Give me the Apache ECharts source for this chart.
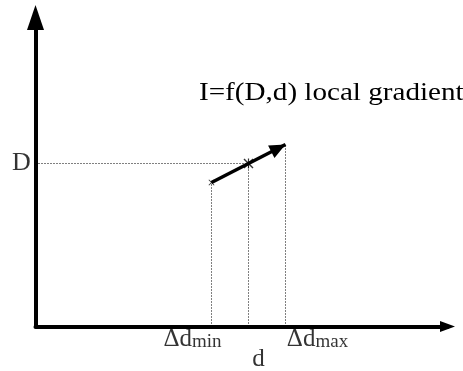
<!DOCTYPE html>
<html>
<head>
<meta charset="utf-8">
<script src="https://cdn.jsdelivr.net/npm/echarts@6/dist/echarts.min.js"></script>
<style>html,body{margin:0;padding:0;background:#fff;}#c{width:463px;height:371px;}</style>
</head>
<body>
<div id="c"></div>
<script>
// Diagram values (axis units: d horizontally, D vertically)
var xMax = 412;
var yMax = 309;
var dMin = 176;      // Δd_min
var dMid = 213;      // d
var dMax = 250;      // Δd_max
var DVal = 163;      // D
var gradStart = [dMin, 144];
var gradEnd = [dMax, 182];
var xTickNames = ['{a|Δd}{b|min}', '{a|d}', '{a|Δd}{b|max}'];
var yTickName = 'D';
var titleText = 'I=f(D,d) local gradient';

var FONT = 'Liberation Serif';

var chart = echarts.init(document.getElementById('c'));

var dotted = { color: '#000', width: 1, type: [1, 2] };
var dottedV = [
  [[dMin, 0], gradStart],
  [[dMid, 0], [dMid, DVal]],
  [[dMax, 0], gradEnd]
];
var dottedSeries = dottedV.map(function (seg) {
  return { type: 'line', data: seg, symbol: 'none', silent: true, lineStyle: dotted, z: 1 };
});
dottedSeries.push({
  type: 'line', data: [[0, DVal], [dMid, DVal]], symbol: 'none', silent: true,
  lineStyle: dotted, z: 1
});

var rich = {
  a: { fontFamily: FONT, fontSize: 25, color: '#000', verticalAlign: 'bottom', lineHeight: 26 },
  b: { fontFamily: FONT, fontSize: 19, color: '#000', verticalAlign: 'bottom', lineHeight: 22 }
};
var labelOffsets = [[-19, 12], [10, 32], [32, 12]];
var xLabelPts = [dMin, dMid, dMax].map(function (v, i) {
  return {
    value: [v, 0],
    label: { formatter: xTickNames[i], offset: labelOffsets[i] }
  };
});

// arrow head whose tip sits at the centre of its (square) symbol box
var arrowHead = 'path://M0,0L32,0M0,32L32,32 M16,16L9,32L23,32Z';

chart.setOption({
  animation: false,
  backgroundColor: '#fff',
  graphic: [{
    type: 'text', left: 199, top: 80, scaleX: 1.12, originX: 0,
    style: { text: titleText, font: '26px "Liberation Serif"', fill: '#000' }
  }],
  grid: { left: 35.5, right: 15.5, top: 17.5, bottom: 44.5 },
  xAxis: {
    type: 'value', min: 0, max: xMax,
    splitLine: { show: false }, axisTick: { show: false }, axisLabel: { show: false },
    axisLine: { show: true, onZero: false, symbol: ['none', 'triangle'], symbolSize: [11, 15],
      lineStyle: { color: '#000', width: 4 } }
  },
  yAxis: {
    type: 'value', min: 0, max: yMax,
    splitLine: { show: false }, axisTick: { show: false }, axisLabel: { show: false },
    axisLine: { show: true, onZero: false, symbol: ['none', 'triangle'], symbolSize: [17, 25],
      lineStyle: { color: '#000', width: 4 } }
  },
  series: dottedSeries.concat([
    {
      type: 'lines', coordinateSystem: 'cartesian2d', silent: true, z: 3,
      symbol: ['none', arrowHead], symbolSize: 32,
      lineStyle: { color: '#000', width: 3.5, opacity: 1 },
      data: [{ coords: [gradStart, gradEnd] }]
    },
    {
      type: 'scatter', silent: true, z: 4,
      symbol: 'path://M0,1L1,0L10,9L9,10Z M9,0L10,1L1,10L0,9Z M4.4,0L5.6,0L5.6,10L4.4,10Z',
      symbolSize: 10, itemStyle: { color: '#000' },
      data: [[dMid, DVal]]
    },
    {
      type: 'scatter', silent: true, z: 4,
      symbol: 'path://M0,1L1,0L10,9L9,10Z M9,0L10,1L1,10L0,9Z',
      symbolSize: 6, itemStyle: { color: '#000' },
      data: [gradStart]
    },
    {
      type: 'scatter', silent: true, symbolSize: 0, z: 5,
      label: { show: true, position: 'inside', rich: rich },
      data: xLabelPts
    },
    {
      type: 'scatter', silent: true, symbolSize: 0, z: 5,
      label: { show: true, position: 'inside', offset: [-14, 0], formatter: yTickName,
        fontFamily: FONT, fontSize: 26, color: '#000' },
      data: [[0, DVal]]
    }
  ])
});
</script>
</body>
</html>
